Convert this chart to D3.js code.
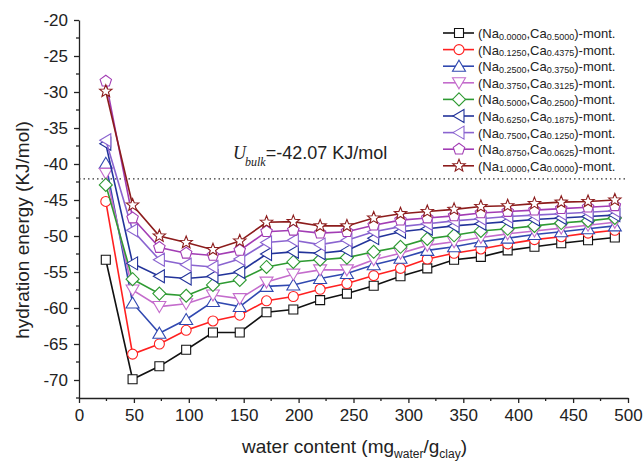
<!DOCTYPE html>
<html>
<head>
<meta charset="utf-8">
<script src="https://cdn.jsdelivr.net/npm/d3@7"></script>
<style>
  body { margin: 0; background: #fff; }
  svg text { font-family: "Liberation Sans", Arial, sans-serif; fill: #222; }
  .axis path, .axis line { stroke: #222; stroke-width: 1.3; }
</style>
</head>
<body>
<div id="chart"></div>
<script>
(function () {
  "use strict";

  // Data
  const waterContent = [24.4, 48.8, 73.2, 97.6, 122, 146.4, 170.8, 195.2, 219.6, 244,
                        268.4, 292.8, 317.2, 341.6, 366, 390.4, 414.8, 439.2, 463.6, 488];

  const naFrac = ["0.0000", "0.1250", "0.2500", "0.3750", "0.5000", "0.6250", "0.7500", "0.8750", "1.0000"];
  const caFrac = ["0.5000", "0.4375", "0.3750", "0.3125", "0.2500", "0.1875", "0.1250", "0.0625", "0.0000"];

  const na0000 = [-53.3, -69.9, -68.1, -65.8, -63.4, -63.4, -60.6, -60.2, -58.9, -58.0, -56.9, -55.6, -54.5, -53.3, -52.9, -52.0, -51.5, -51.0, -50.6, -50.2];
  const na1250 = [-45.2, -66.4, -65.0, -63.1, -61.8, -61.0, -59.0, -58.4, -57.4, -56.6, -55.5, -54.5, -53.2, -52.4, -51.8, -51.1, -50.5, -50.1, -49.6, -49.2];
  const na2500 = [-39.9, -59.3, -63.5, -61.6, -59.1, -59.8, -57.0, -56.8, -55.9, -55.2, -54.0, -53.1, -52.0, -51.5, -50.8, -50.3, -49.8, -49.4, -49.0, -48.6];
  const na3750 = [-41.3, -57.5, -59.8, -59.4, -58.2, -58.7, -56.4, -55.3, -54.7, -54.7, -53.3, -52.4, -51.3, -50.8, -50.2, -49.7, -49.3, -48.9, -48.5, -48.1];
  const na5000 = [-42.9, -56.0, -58.0, -58.3, -56.8, -56.1, -54.3, -53.6, -53.3, -53.0, -52.2, -51.5, -50.4, -49.9, -49.3, -49.0, -48.6, -48.2, -47.9, -47.5];
  const na6250 = [-37.2, -53.8, -55.6, -55.9, -55.6, -55.0, -52.5, -52.2, -52.4, -52.0, -50.3, -49.4, -49.0, -48.6, -48.3, -48.0, -47.7, -47.5, -47.3, -47.1];
  const na7500 = [-36.7, -49.2, -53.3, -54.0, -54.3, -53.2, -50.9, -50.6, -51.2, -50.6, -49.4, -48.7, -48.3, -47.9, -47.6, -47.3, -47.1, -46.9, -46.7, -46.5];
  const na8750 = [-28.5, -47.5, -51.6, -52.4, -52.7, -52.0, -49.4, -49.2, -49.6, -49.4, -48.5, -47.8, -47.5, -47.2, -46.8, -46.6, -46.4, -46.2, -46.0, -45.8];
  const na10000 = [-29.9, -45.7, -50.0, -50.9, -51.9, -50.7, -48.1, -48.0, -48.6, -48.6, -47.5, -46.9, -46.6, -46.3, -45.9, -45.8, -45.5, -45.3, -45.2, -45.0];

  const seriesValues = [na0000, na1250, na2500, na3750, na5000, na6250, na7500, na8750, na10000];
  const COLORS = ["#111111", "#ff2020", "#3048b0", "#c46ccc", "#2e9a32", "#22339a", "#8a64d0", "#a23cb4", "#8c1c1c"];
  const SHAPES = ["square", "circle", "triUp", "triDown", "diamond", "triLeft", "triLeft", "pentagon", "star"];

  const xTicks = [0, 50, 100, 150, 200, 250, 300, 350, 400, 450, 500];
  const yTicks = [-70, -65, -60, -55, -50, -45, -40, -35, -30, -25, -20];
  const uBulk = -42.07;

  // Dimensions
  const totalW = 644, totalH = 462;
  const x = d3.scaleLinear().domain([0, 500]).range([79, 628]);
  const y = d3.scaleLinear().domain([-72.5, -20]).range([398, 20]);

  const svg = d3.select("#chart").append("svg")
    .attr("width", totalW).attr("height", totalH);

  // Marker shapes
  function poly(pts) { return "M" + pts.map(p => p.join(",")).join("L") + "Z"; }
  function markerPath(shape) {
    switch (shape) {
      case "square": return "M-4.5,-4.5H4.5V4.5H-4.5Z";
      case "circle": return d3.symbol(d3.symbolCircle, Math.PI * 25)();
      case "triUp": return poly([[0, -6], [6.5, 5], [-6.5, 5]]);
      case "triDown": return poly([[0, 6], [6.5, -5], [-6.5, -5]]);
      case "triLeft": return poly([[-6, 0], [5, -6.5], [5, 6.5]]);
      case "diamond": return poly([[0, -6.5], [6.5, 0], [0, 6.5], [-6.5, 0]]);
      case "pentagon": return poly(d3.range(5).map(i => {
        const a = -Math.PI / 2 + i * 2 * Math.PI / 5;
        return [6 * Math.cos(a), 6 * Math.sin(a)];
      }));
      case "star": return poly(d3.range(10).map(i => {
        const a = -Math.PI / 2 + i * Math.PI / 5, r = i % 2 ? 2.8 : 6.5;
        return [r * Math.cos(a), r * Math.sin(a)];
      }));
    }
  }

  // Axes
  const yAxis = svg.append("g").attr("class", "axis")
    .attr("transform", `translate(${x(0)},0)`)
    .call(d3.axisLeft(y).tickValues(yTicks).tickSize(5).tickSizeOuter(0).tickPadding(6).tickFormat(d => String(d)));
  yAxis.selectAll("text").style("font-size", "17px");
  yAxis.append("g").selectAll("line")
    .data(d3.range(-72.5, -20, 2.5).filter(v => v % 5 !== 0))
    .join("line").attr("x1", 0).attr("x2", -3).attr("y1", d => y(d)).attr("y2", d => y(d));

  const xAxis = svg.append("g").attr("class", "axis")
    .attr("transform", `translate(0,${y(-72.5)})`)
    .call(d3.axisBottom(x).tickValues(xTicks).tickSize(5).tickSizeOuter(0).tickPadding(6));
  xAxis.selectAll("text").style("font-size", "17px");
  xAxis.append("g").selectAll("line")
    .data(d3.range(25, 500, 50))
    .join("line").attr("x1", d => x(d)).attr("x2", d => x(d)).attr("y1", 0).attr("y2", 3);

  // Axis titles
  const xt = svg.append("text").attr("x", (x(0) + x(500)) / 2 + 1).attr("y", 453)
    .attr("text-anchor", "middle").style("font-size", "19px");
  xt.append("tspan").text("water content (mg");
  xt.append("tspan").attr("dy", 5).style("font-size", "12px").text("water");
  xt.append("tspan").attr("dy", -5).text("/g");
  xt.append("tspan").attr("dy", 5).style("font-size", "12px").text("clay");
  xt.append("tspan").attr("dy", -5).text(")");

  svg.append("text")
    .attr("transform", `translate(29,${(y(-20) + y(-72.5)) / 2 + 21}) rotate(-90)`)
    .attr("text-anchor", "middle").style("font-size", "19px")
    .text("hydration energy (KJ/mol)");

  // Bulk reference line
  svg.append("line")
    .attr("x1", x(0)).attr("x2", x(500))
    .attr("y1", y(uBulk)).attr("y2", y(uBulk))
    .attr("stroke", "#333").attr("stroke-width", 1.2).attr("stroke-dasharray", "1.5,3");

  const ann = svg.append("text").attr("x", 233).attr("y", 159).style("font-size", "18px");
  ann.append("tspan").style("font-family", "'Liberation Serif', 'Times New Roman', serif")
    .style("font-style", "italic").text("U");
  ann.append("tspan").attr("dy", 7).attr("dx", -1)
    .style("font-family", "'Liberation Serif', 'Times New Roman', serif")
    .style("font-style", "italic").style("font-size", "12px").text("bulk");
  ann.append("tspan").attr("dy", -7).text(`=${uBulk} KJ/mol`);

  // Series
  const line = d3.line().x((d, i) => x(waterContent[i])).y(d => y(d));
  seriesValues.forEach((vals, si) => {
    const g = svg.append("g");
    g.append("path").datum(vals).attr("d", line)
      .attr("fill", "none").attr("stroke", COLORS[si]).attr("stroke-width", 1.6);
    g.selectAll("path.m").data(vals).join("path").attr("class", "m")
      .attr("transform", (d, i) => `translate(${x(waterContent[i])},${y(d)})`)
      .attr("d", markerPath(SHAPES[si]))
      .attr("fill", "#fff").attr("stroke", COLORS[si]).attr("stroke-width", 1.1);
  });

  // Legend
  const legend = svg.append("g").attr("transform", "translate(443,33)");
  naFrac.forEach((na, i) => {
    const item = legend.append("g").attr("transform", `translate(0,${i * 16.6})`);
    item.append("line").attr("x1", 0).attr("x2", 31)
      .attr("stroke", COLORS[i]).attr("stroke-width", 1.6);
    item.append("path").attr("transform", "translate(16,0)")
      .attr("d", markerPath(SHAPES[i]))
      .attr("fill", "#fff").attr("stroke", COLORS[i]).attr("stroke-width", 1.1);
    const t = item.append("text").attr("x", 35).attr("y", 5).style("font-size", "13px");
    t.append("tspan").text("(Na");
    t.append("tspan").attr("dy", 1.5).style("font-size", "9px").text(na);
    t.append("tspan").attr("dy", -1.5).text(",Ca");
    t.append("tspan").attr("dy", 1.5).style("font-size", "9px").text(caFrac[i]);
    t.append("tspan").attr("dy", -1.5).text(")-mont.");
  });
})();
</script>
</body>
</html>
